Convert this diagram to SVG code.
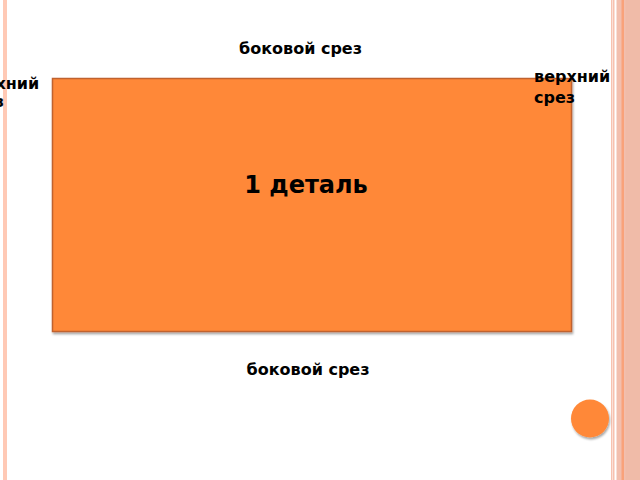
<svg xmlns="http://www.w3.org/2000/svg" width="640" height="480" viewBox="0 0 640 480">
<style>
.lbl{font-family:"DejaVu Sans","Liberation Sans",sans-serif;font-weight:bold;font-size:16px;fill:#000}
</style>
<defs>
<filter id="sh" x="-20%" y="-20%" width="140%" height="140%">
<feDropShadow dx="1" dy="2" stdDeviation="1.2" flood-color="#000" flood-opacity="0.35"/>
</filter>
</defs>
<rect width="640" height="480" fill="#fff"/>
<g id="frame">
<rect x="3" y="0" width="4" height="480" fill="#FFC9B5"/>
<rect x="611" y="0" width="1.5" height="480" fill="#F7C2B0"/>
<rect x="613" y="0" width="1.5" height="480" fill="#F7C2B0"/>
<rect x="616.5" y="0" width="23.5" height="480" fill="#F2BFAE"/>
<rect x="621.5" y="0" width="2.5" height="480" fill="#F9A27A"/>
<rect x="625.5" y="0" width="14.5" height="480" fill="#F0BBA8"/>
</g>
<g id="part">
<rect x="52.5" y="78.5" width="519" height="253" fill="#FF8838" stroke="#C0622E" stroke-width="1.5" filter="url(#sh)"/>
<text x="306" y="193" text-anchor="middle" font-family="DejaVu Sans, Liberation Sans, sans-serif" font-weight="bold" font-size="24" fill="#000">1 деталь</text>
</g>
<g id="labels">
<text class="lbl" x="300.5" y="54" text-anchor="middle">боковой срез</text>
<text class="lbl" x="308" y="375" text-anchor="middle">боковой срез</text>
<text class="lbl" x="534" y="82">верхний</text>
<text class="lbl" x="534" y="103">срез</text>
<text class="lbl" x="-37" y="89">верхний</text>
<text class="lbl" x="-37" y="107">срез</text>
</g>
<g id="button">
<circle cx="590" cy="418.5" r="19" fill="#FF8838" filter="url(#sh)"/>
</g>
</svg>
